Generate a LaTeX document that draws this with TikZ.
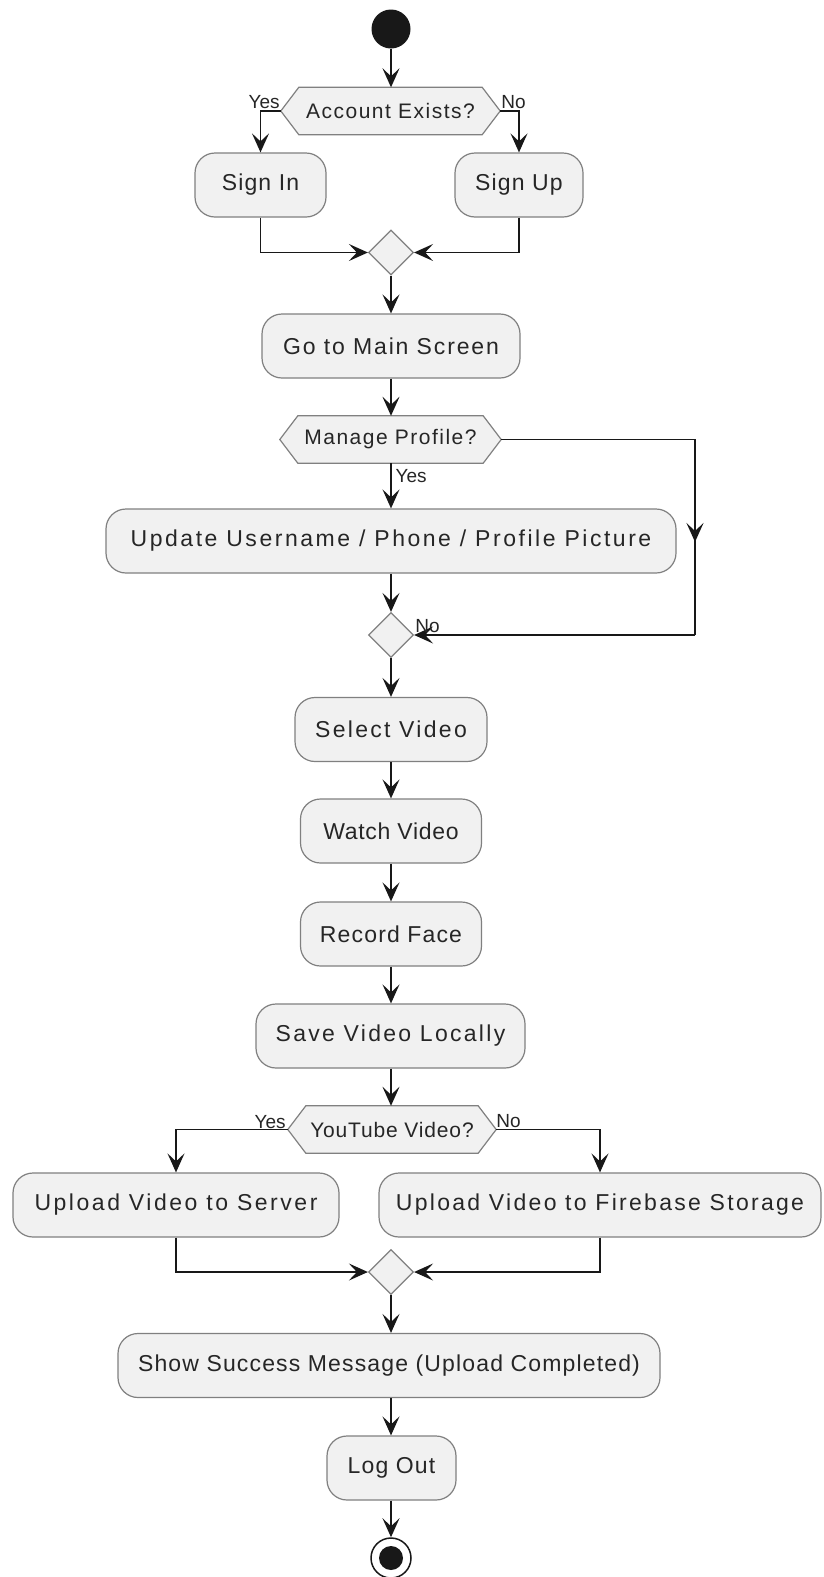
\documentclass[tikz,border=0pt]{standalone}
\usepackage{fontspec}
\setmainfont{Liberation Sans}
\newfontfamily\actfont[LetterSpace=5]{Liberation Sans}
\newfontfamily\askfont[LetterSpace=7]{Liberation Sans}
\usetikzlibrary{arrows.meta,shapes.geometric,backgrounds}
\definecolor{boxfill}{HTML}{F1F1F1}
\definecolor{boxline}{HTML}{808080}
\definecolor{ink}{HTML}{181818}
\definecolor{txt}{HTML}{262626}

\tikzset{
  act/.style={draw=boxline, fill=boxfill, line width=1.2pt, rounded corners=20pt,
    minimum height=64pt, inner sep=0pt, text=txt,
    font=\actfont\fontsize{23}{27}\selectfont},
  ask/.style={inner sep=0pt, minimum height=47pt, text=txt,
    font=\askfont\fontsize{21}{25}\selectfont},
  merge/.style={diamond, draw=boxline, fill=boxfill, line width=1.2pt,
    minimum width=45pt, minimum height=45pt, inner sep=0pt, aspect=1},
  flow/.style={draw=ink, line width=1.8pt, -{Stealth[length=19pt,width=17pt,inset=8pt]}},
  link/.style={draw=ink, line width=1.8pt},
  guard/.style={inner sep=0pt, text=txt, font=\fontsize{19}{21}\selectfont},
  hexa/.style={draw=boxline, fill=boxfill, line width=1.2pt},
}
% hexagonal frame behind a decision node
\newcommand\hexframe[1]{%
  \draw[hexa] (#1.west) -- ([xshift=18pt]#1.north west) -- ([xshift=-18pt]#1.north east)
    -- (#1.east) -- ([xshift=-18pt]#1.south east) -- ([xshift=18pt]#1.south west) -- cycle;}
% wider tracking for a single label
\newcommand\spaced[2]{{\addfontfeature{LetterSpace=#1}#2}}

\begin{document}
\begin{tikzpicture}[x=1pt, y=-1pt]
\useasboundingbox (0,0) rectangle (823,1577);

% nodes
\node[circle, fill=ink, minimum size=39pt, inner sep=0pt] (start) at (391,29) {};
\node[ask, minimum width=219pt] (q1) at (390.5,111) {Account Exists?};
\node[act, minimum width=131pt] (signin) at (260.5,185) {Sign In};
\node[act, minimum width=128pt] (signup) at (519,185) {Sign Up};
\node[merge] (m1) at (391,252.5) {};
\node[act, minimum width=258pt] (gomain) at (391,346) {\spaced{8}{Go to Main Screen}};
\node[ask, minimum width=221pt] (q2) at (390.5,439.5) {Manage Profile?};
\node[act, minimum width=570pt] (update) at (391,541) {\spaced{11}{Update Username / Phone / Profile Picture}};
\node[merge] (m2) at (391,635) {};
\node[act, minimum width=192pt] (select) at (391,729.5) {\spaced{10}{Select Video}};
\node[act, minimum width=181pt] (watch) at (391,831) {\spaced{3}{Watch Video}};
\node[act, minimum width=181pt] (record) at (391,934) {Record Face};
\node[act, minimum width=269pt] (save) at (390.5,1036) {\spaced{10}{Save Video Locally}};
\node[ask, minimum width=208pt, font=\fontsize{21}{25}\selectfont] (q3) at (392,1129.5) {\spaced{4}{YouTube Video?}};
\node[act, minimum width=326pt] (upserver) at (176,1205) {\spaced{11}{Upload Video to Server}};
\node[act, minimum width=442pt] (upfire) at (600,1205) {\spaced{10}{Upload Video to Firebase Storage}};
\node[merge] (m3) at (391,1272) {};
\node[act, minimum width=542pt] (success) at (389,1365.5) {Show Success Message (Upload Completed)};
\node[act, minimum width=129pt] (logout) at (391.5,1468) {Log Out};
\node[circle, draw=ink, fill=white, line width=1.5pt, minimum size=40pt, inner sep=0pt] (finish) at (391,1558) {};
\node[circle, fill=ink, minimum size=24pt, inner sep=0pt] (finishdot) at (finish.center) {};

\begin{scope}[on background layer]
  \fill[white] (0,0) rectangle (823,1577);
  \hexframe{q1}
  \hexframe{q2}
  \hexframe{q3}
\end{scope}

% connectors
\draw[flow] (start.south) -- (start.south |- q1.north);
\draw[flow] (q1.west) -| (signin.north);
\draw[flow] (q1.east) -| (signup.north);
\draw[flow] (signin.south) |- (m1.west);
\draw[flow] (signup.south) |- (m1.east);
\draw[flow] (m1.south) -- (m1.south |- gomain.north);
\draw[flow] (gomain.south) -- (gomain.south |- q2.north);
\draw[flow] (m1.south |- q2.south) -- (m1.south |- update.north);
\draw[flow] (m1.south |- update.south) -- (m2.north);
\coordinate (turnA) at (695,439.5);
\coordinate (turnB) at (695,635);
\coordinate (loopmid) at (695,542);
\draw[link] (q2.east) -- (turnA) -- (turnB);
\draw[flow] (turnA) -- (loopmid);
\draw[flow] (turnB) -- (m2.east);
\draw[flow] (m2.south) -- (m2.south |- select.north);
\draw[flow] (select.south) -- (select.south |- watch.north);
\draw[flow] (watch.south) -- (watch.south |- record.north);
\draw[flow] (record.south) -- (record.south |- save.north);
\draw[flow] (m2.south |- save.south) -- (m2.south |- q3.north);
\draw[flow] (q3.west) -| (upserver.north);
\draw[flow] (q3.east) -| (upfire.north);
\draw[flow] (upserver.south) |- (m3.west);
\draw[flow] (upfire.south) |- (m3.east);
\draw[flow] (m3.south) -- (m3.south |- success.north);
\draw[flow] (m3.south |- success.south) -- (m3.south |- logout.north);
\draw[flow] (finish.north |- logout.south) -- (finish.north);

% guard labels
\node[guard, anchor=base east] (g1y) at ([shift={(-1pt,3pt)}]q1.west) {Yes};
\node[guard, anchor=base west] (g1n) at ([shift={(1pt,3pt)}]q1.east) {No};
\node[guard, anchor=base west] (g2y) at ([shift={(5pt,-19pt)}]q2.south) {Yes};
\node[guard, anchor=base west] (g2n) at ([shift={(1pt,3pt)}]m2.east) {No};
\node[guard, anchor=base east] (g3y) at ([shift={(-2pt,1pt)}]q3.west) {Yes};
\node[guard, anchor=base west] (g3n) at ([shift={(0pt,2pt)}]q3.east) {No};
\end{tikzpicture}
\end{document}
